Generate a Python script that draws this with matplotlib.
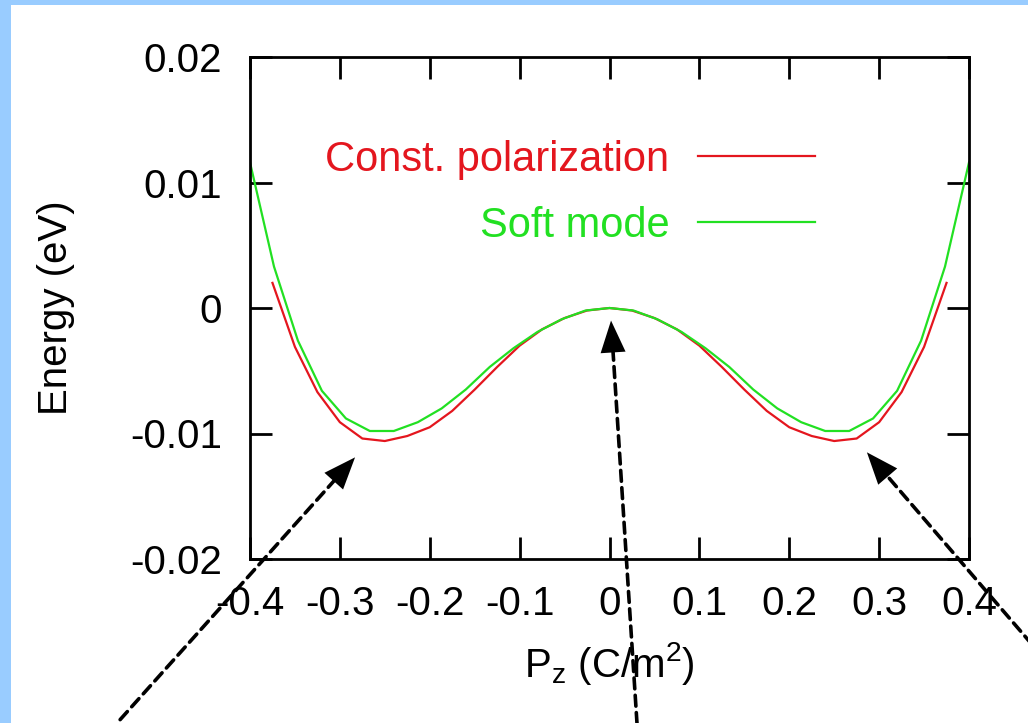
import matplotlib
matplotlib.use("Agg")
import matplotlib.pyplot as plt
from matplotlib.patches import Rectangle

plt.rcParams["font.family"] = ["Liberation Sans", "DejaVu Sans"]
plt.rcParams["mathtext.fontset"] = "custom"
plt.rcParams["mathtext.rm"] = "Liberation Sans"
plt.rcParams["mathtext.it"] = "Liberation Sans"
plt.rcParams["axes.unicode_minus"] = False
plt.rcParams.update({"font.size": 29})

RED = "#e4161e"
GREEN = "#22e022"

# Constant-polarization path, left half down to P = 0 (mirrored for P > 0)
p_const_half = [-0.375, -0.35, -0.325, -0.30, -0.275, -0.25, -0.225, -0.20,
                -0.175, -0.15, -0.125, -0.10, -0.075, -0.05, -0.025, 0.0]
e_const_half = [0.0020, -0.0031, -0.0067, -0.0091, -0.0104, -0.0106, -0.0102,
                -0.0095, -0.0082, -0.0065, -0.0047, -0.0030, -0.0017, -0.0008,
                -0.0002, 0.0]

# Soft-mode path
p_soft_half = [-0.4, -0.3733, -0.3467, -0.32, -0.2933, -0.2667, -0.24, -0.2133,
               -0.1867, -0.16, -0.1333, -0.1067, -0.08, -0.0533, -0.0267, 0.0]
e_soft_half = [0.0116, 0.0033, -0.0026, -0.0066, -0.0088, -0.0098, -0.0098,
               -0.0091, -0.0080, -0.0065, -0.0047, -0.0032, -0.0019, -0.0009,
               -0.0002, 0.0]

p_const = p_const_half + [-p for p in p_const_half[-2::-1]]
e_const = e_const_half + e_const_half[-2::-1]
p_soft = p_soft_half + [-p for p in p_soft_half[-2::-1]]
e_soft = e_soft_half + e_soft_half[-2::-1]

x_ticks = [-0.4, -0.3, -0.2, -0.1, 0.0, 0.1, 0.2, 0.3, 0.4]
x_ticklabels = ["-0.4", "-0.3", "-0.2", "-0.1", "0", "0.1", "0.2", "0.3", "0.4"]
y_ticks = [-0.02, -0.01, 0.0, 0.01, 0.02]
y_ticklabels = ["-0.02", "-0.01", "0", "0.01", "0.02"]

# dashed pointers: (tail, tip) in data units
pointers = [
    ((-0.5445, -0.0328), (-0.2831, -0.0119)),
    ((0.0306, -0.0331), (0.0017, -0.0010)),
    ((0.4700, -0.0268), (0.2864, -0.0115)),
]
HEAD_LEN = 23  # points

fig = plt.figure(figsize=(10.28, 7.23), dpi=100)
fig.patches.append(Rectangle((0, 0), 11 / 1028, 1, transform=fig.transFigure,
                             facecolor="#99ccff", edgecolor="none", zorder=-1))
fig.patches.append(Rectangle((0, 1 - 5 / 723), 1, 5 / 723, transform=fig.transFigure,
                             facecolor="#99ccff", edgecolor="none", zorder=-1))

ax = fig.add_axes([250 / 1028, 164 / 723, 719 / 1028, 502 / 723])
ax.plot(p_const, e_const, color=RED, lw=1.6, label="Const. polarization")
ax.plot(p_soft, e_soft, color=GREEN, lw=1.6, label="Soft mode")

ax.set_xlim(-0.4, 0.4)
ax.set_ylim(-0.02, 0.02)
ax.set_xticks(x_ticks)
ax.set_xticklabels(x_ticklabels)
ax.set_yticks(y_ticks)
ax.set_yticklabels(y_ticklabels)
ax.tick_params(direction="in", length=16, width=2, top=True, right=True)
ax.tick_params(axis="x", pad=19)
ax.tick_params(axis="y", pad=20)
for s in ax.spines.values():
    s.set_linewidth(2)

ax.set_xlabel(r"P$_\mathrm{z}$ (C/m$^2$)", labelpad=12)
ax.set_ylabel("Energy (eV)", labelpad=40)

leg = ax.legend(loc="upper right", bbox_to_anchor=(0.786, 0.835), frameon=False,
                markerfirst=False, handlelength=2.8, handletextpad=0.7,
                labelspacing=0.62, borderpad=0, borderaxespad=0,
                labelcolor="linecolor", fontsize=30)

for tail, tip in pointers:
    # dashed shaft stopping at the head base
    ax.annotate("", xy=tip, xytext=tail, annotation_clip=False,
                arrowprops=dict(arrowstyle="-", color="k", lw=2.6,
                                linestyle=(0, (3, 1.8)), shrinkA=0,
                                shrinkB=HEAD_LEN - 2))
    # solid filled head
    ax.annotate("", xy=tip, xytext=tail, annotation_clip=False,
                arrowprops=dict(arrowstyle="-|>,head_length=%g,head_width=0.45"
                                % (HEAD_LEN / 20),
                                mutation_scale=20, facecolor="k", edgecolor="k",
                                lw=0, shrinkA=0, shrinkB=0))

fig.savefig("out.png", dpi=100)
